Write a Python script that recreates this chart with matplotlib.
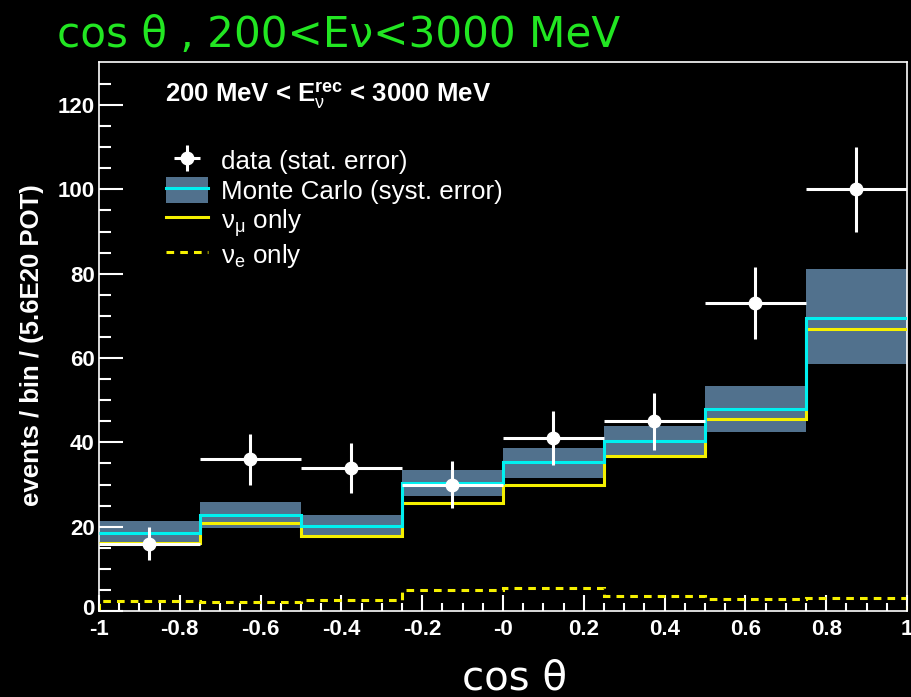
import numpy as np
import matplotlib
matplotlib.use("Agg")
import matplotlib.pyplot as plt
from matplotlib.patches import Patch
from matplotlib.lines import Line2D
from matplotlib import font_manager as fm
from matplotlib.transforms import ScaledTranslation

# ---------------- data ----------------
bin_edges = [-1.0, -0.75, -0.5, -0.25, 0.0, 0.25, 0.5, 0.75, 1.0]
data_values = [16, 36, 34, 30, 41, 45, 73, 100]
data_errors = [4.0, 6.0, 5.9, 5.5, 6.4, 6.7, 8.5, 10.0]
mc_values = [18.4, 22.8, 20.2, 30.3, 35.3, 40.3, 48.0, 69.6]
mc_band_high = [21.4, 25.8, 22.8, 33.4, 38.6, 43.9, 53.4, 81.0]
mc_band_low = [15.4, 19.6, 17.6, 27.3, 31.5, 36.8, 42.5, 58.6]
numu_values = [16.2, 20.8, 17.8, 25.7, 29.9, 36.8, 45.5, 66.8]
nue_values = [2.3, 2.05, 2.5, 5.0, 5.4, 3.6, 2.8, 3.2]

x_ticks = [-1, -0.8, -0.6, -0.4, -0.2, 0, 0.2, 0.4, 0.6, 0.8, 1]
x_tick_labels = ["-1", "-0.8", "-0.6", "-0.4", "-0.2", "-0", "0.2", "0.4", "0.6", "0.8", "1"]
y_ticks = [0, 20, 40, 60, 80, 100, 120]
y_tick_labels = ["0", "20", "40", "60", "80", "100", "120"]

title_text = "cos θ , 200<Eν<3000 MeV"
x_label = "cos θ"
y_label = "events / bin / (5.6E20 POT)"
energy_text = r"200 MeV < $\mathbf{E}_{\mathrm{\nu}}^{\mathbf{rec}}$ < 3000 MeV"
legend_labels = ["data (stat. error)", "Monte Carlo (syst. error)",
                 r"$\mathrm{\nu}_{\mathrm{\mu}}$ only", r"$\mathrm{\nu}_{\mathrm{e}}$ only"]

# ---------------- style ----------------
names = {f.name for f in fm.fontManager.ttflist}
sans = "Liberation Sans" if "Liberation Sans" in names else "DejaVu Sans"
plt.rcParams["font.family"] = [sans, "DejaVu Sans"]
plt.rcParams["mathtext.fontset"] = "custom"
plt.rcParams["mathtext.rm"] = sans
plt.rcParams["mathtext.it"] = sans + ":italic"
plt.rcParams["mathtext.bf"] = sans + ":bold"

band_color = "#51718d"
cyan = "#00f0f0"
yellow = "#f5f000"
green = "#22e622"

W, H = 912, 697
fig = plt.figure(figsize=(W / 100, H / 100), dpi=100, facecolor="black")
ax = fig.add_axes([99 / W, 1 - 611 / H, (907 - 99) / W, (611 - 62) / H])
ax.set_facecolor("black")

edges = np.array(bin_edges)
centers = 0.5 * (edges[:-1] + edges[1:])
halfw = 0.5 * np.diff(edges)

ax.stairs(mc_band_high, edges, baseline=mc_band_low, fill=True,
          color=band_color, lw=0, zorder=1)
ax.stairs(nue_values, edges, color=yellow, lw=2.2, ls=(0, (2.5, 2.0)), zorder=2)
ax.stairs(numu_values, edges, color=yellow, lw=2.2, zorder=3, baseline=None)
ax.stairs(mc_values, edges, color=cyan, lw=2.2, zorder=4, baseline=None)
h_data = ax.errorbar(centers, data_values, xerr=halfw, yerr=data_errors, fmt="o",
                     color="white", ms=9, elinewidth=2.2, capsize=0, zorder=5)

ax.set_xlim(-1, 1)
ax.set_ylim(0, 130.2)
ax.set_xticks(x_ticks)
ax.set_xticklabels(x_tick_labels)
ax.set_yticks(y_ticks)
ax.set_yticklabels(y_tick_labels)
ax.set_xticks(np.arange(-1, 1.001, 0.05), minor=True)
ax.set_yticks(np.arange(0, 130, 5), minor=True)

for s in ax.spines.values():
    s.set_color("white")
    s.set_linewidth(1.2)

ax.tick_params(axis="both", which="both", direction="in", colors="white",
               top=False, right=False, width=1.5)
ax.tick_params(axis="x", which="major", length=11.5, labelsize=16, pad=6)
ax.tick_params(axis="x", which="minor", length=5.8)
ax.tick_params(axis="y", which="major", length=17, labelsize=16, pad=3)
ax.tick_params(axis="y", which="minor", length=8.6)
for lab in ax.get_xticklabels() + ax.get_yticklabels():
    lab.set_fontweight("bold")
# nudge the y "0" label up slightly so it does not collide with "-1"
ylab0 = ax.get_yticklabels()[0]
ylab0.set_transform(ylab0.get_transform() + ScaledTranslation(0, 4 / 100, fig.dpi_scale_trans))

fig.text(57 / W, 1 - 35 / H, title_text, color=green, fontsize=30.3,
         family=["DejaVu Sans"], va="center", ha="left")
fig.text(515 / W, 1 - 678 / H, x_label, color="white", fontsize=29,
         family=["DejaVu Sans"], va="center", ha="center")
fig.text(32 / W, 1 - 345 / H, y_label, color="white", fontsize=18.5,
         fontweight="bold", rotation=90, va="center", ha="center")
fig.text(165 / W, 1 - 96 / H, energy_text, color="white", fontsize=18.5,
         fontweight="bold", va="center", ha="left")

h_mc = (Patch(facecolor=band_color, edgecolor="none"),
        Line2D([], [], color=cyan, lw=2.2))
h_numu = Line2D([], [], color=yellow, lw=2.2)
h_nue = Line2D([], [], color=yellow, lw=2.2, ls=(0, (2.5, 2.0)))
leg = ax.legend([h_data, h_mc, h_numu, h_nue], legend_labels,
                loc="upper left", bbox_to_anchor=(153 / W, 1 - 134 / H),
                bbox_transform=fig.transFigure, frameon=False,
                fontsize=18.7, labelcolor="white", handlelength=1.6,
                handleheight=1.2, handletextpad=0.5, labelspacing=0.1,
                borderpad=0)

fig.savefig("out.png", dpi=100, facecolor="black")
